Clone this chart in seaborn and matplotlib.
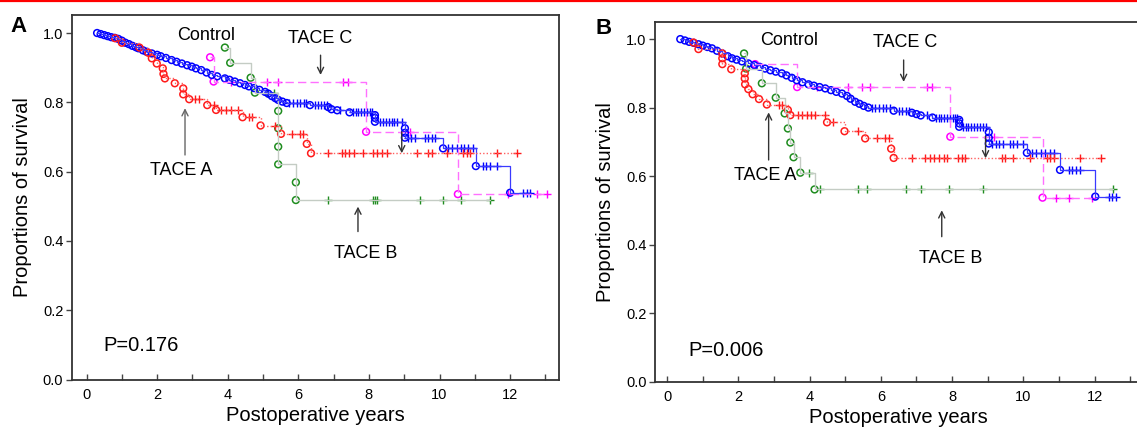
import numpy as np
import pandas as pd
import matplotlib
matplotlib.use("Agg")
import matplotlib.pyplot as plt
from matplotlib.lines import Line2D
from matplotlib.ticker import MultipleLocator, FormatStrFormatter
import seaborn as sns

# ---- Panel A: event times / survival after event, censor times ----
a_ctrl_t = [0.30, 0.40, 0.50, 0.60, 0.70, 0.80, 0.90, 1.00, 1.10, 1.20, 1.30, 1.40,
            1.47, 1.60, 1.70, 1.85, 2.00, 2.10, 2.25, 2.41, 2.55, 2.70, 2.85, 2.98,
            3.10, 3.25, 3.40, 3.55, 3.70, 3.92, 4.05, 4.20, 4.35, 4.49, 4.60, 4.75, 4.90,
            5.06, 5.15, 5.25, 5.35, 5.43, 5.55, 5.67, 6.33, 6.85, 6.94, 7.10, 7.45,
            8.17, 8.17, 8.17, 9.02, 9.02, 9.02, 10.10, 11.03, 12.00]
a_ctrl_s = [1.000, 0.997, 0.994, 0.991, 0.988, 0.986, 0.983, 0.978, 0.972, 0.968, 0.963, 0.959,
            0.956, 0.950, 0.946, 0.941, 0.937, 0.933, 0.928, 0.922, 0.917, 0.912, 0.907, 0.903,
            0.898, 0.893, 0.886, 0.879, 0.875, 0.869, 0.865, 0.860, 0.855, 0.850, 0.846, 0.841, 0.836,
            0.830, 0.825, 0.818, 0.812, 0.807, 0.802, 0.798, 0.792, 0.786, 0.780, 0.777, 0.771,
            0.763, 0.755, 0.744, 0.725, 0.712, 0.698, 0.667, 0.616, 0.539]
a_ctrl_c = [5.75, 5.85, 5.95, 6.05, 6.15, 6.22, 6.47, 6.55, 6.63, 6.72, 6.80, 7.18,
            7.55, 7.62, 7.70, 7.78, 7.86, 7.94, 8.02, 8.08, 8.31, 8.40, 8.48, 8.56, 8.64,
            8.72, 8.80, 8.93, 9.10, 9.20, 9.30, 9.58, 9.68, 9.78, 9.87, 10.24, 10.34, 10.50,
            10.60, 10.70, 10.82, 10.95, 11.22, 11.32, 11.42, 11.62, 12.37, 12.47, 12.56]

a_tA_t = [0.81, 1.00, 1.50, 1.75, 1.85, 1.99, 2.16, 2.18, 2.22, 2.50, 2.74, 2.74, 2.91,
          3.42, 3.67, 4.42, 4.93, 5.51, 6.24, 6.36]
a_tA_s = [0.985, 0.972, 0.958, 0.943, 0.927, 0.912, 0.898, 0.882, 0.869, 0.855, 0.840, 0.823,
          0.809, 0.792, 0.778, 0.757, 0.733, 0.709, 0.680, 0.653]
a_tA_c = [3.07, 3.20, 3.60, 3.80, 3.95, 4.10, 4.30, 4.60, 4.70, 5.34, 5.82, 6.05, 6.14,
          6.85, 7.23, 7.32, 7.44, 7.58, 7.84, 8.12, 8.24, 8.36, 8.50, 9.35, 9.68, 9.78,
          10.20, 10.67, 10.77, 10.86, 11.62, 12.19]

a_tB_t = [3.92, 4.07, 4.65, 4.77, 5.43, 5.43, 5.43, 5.43, 5.93, 5.93]
a_tB_s = [0.958, 0.914, 0.871, 0.828, 0.775, 0.725, 0.672, 0.621, 0.569, 0.518]
a_tB_c = [5.12, 5.32, 6.85, 8.12, 8.17, 8.22, 9.45, 10.10, 10.60, 11.43]

a_tC_t = [3.50, 3.60, 7.92, 10.52]
a_tC_s = [0.930, 0.860, 0.715, 0.535]
a_tC_c = [4.10, 5.10, 5.42, 7.27, 7.42, 9.16, 11.95, 12.75, 13.04]

# ---- Panel B ----
b_ctrl_t = [0.37, 0.50, 0.62, 0.75, 0.88, 1.00, 1.13, 1.26,
            1.40, 1.55, 1.70, 1.82, 1.95, 2.10, 2.28, 2.45, 2.60, 2.75, 2.90, 3.05, 3.22,
            3.35, 3.50, 3.64, 3.80, 3.97, 4.12, 4.28, 4.44, 4.60, 4.75, 4.91,
            5.05, 5.15, 5.28, 5.40, 5.52, 5.65, 6.36, 6.87, 7.00, 7.12, 7.45,
            8.20, 8.20, 8.20, 9.03, 9.03, 9.03, 10.10, 11.03, 12.02]
b_ctrl_s = [1.000, 0.996, 0.992, 0.989, 0.985, 0.981, 0.977, 0.973,
            0.966, 0.958, 0.950, 0.944, 0.940, 0.935, 0.929, 0.924, 0.919, 0.914, 0.909, 0.905, 0.900,
            0.894, 0.887, 0.880, 0.874, 0.868, 0.864, 0.860, 0.856, 0.851, 0.846, 0.841,
            0.834, 0.826, 0.817, 0.811, 0.805, 0.800, 0.791, 0.785, 0.781, 0.777, 0.771,
            0.764, 0.754, 0.744, 0.728, 0.712, 0.695, 0.668, 0.618, 0.540]
b_ctrl_c = [5.75, 5.85, 5.95, 6.05, 6.15, 6.25, 6.50, 6.60, 6.70, 6.80, 7.30, 7.55, 7.62,
            7.70, 7.78, 7.86, 7.94, 8.02, 8.08, 8.14, 8.30, 8.38, 8.46, 8.54, 8.62, 8.70,
            8.78, 8.86, 8.95, 9.12, 9.22, 9.32, 9.42, 9.62, 9.72, 9.82, 10.00, 10.25, 10.35,
            10.50, 10.60, 10.75, 10.85, 11.27, 11.38, 11.48, 11.60, 12.40, 12.50, 12.60]

b_tA_t = [0.74, 0.88, 1.55, 1.55, 1.55, 1.80, 2.18, 2.18, 2.19, 2.28, 2.40, 2.58, 2.80,
          3.39, 3.46, 4.49, 4.98, 5.56, 6.29, 6.36]
b_tA_s = [0.990, 0.971, 0.958, 0.944, 0.927, 0.912, 0.900, 0.885, 0.868, 0.854, 0.839, 0.825,
          0.809, 0.793, 0.778, 0.757, 0.731, 0.710, 0.680, 0.653]
b_tA_c = [3.13, 3.22, 3.68, 3.80, 3.92, 4.04, 4.16, 4.42, 4.67, 5.37, 5.89, 6.12, 6.22,
          6.87, 7.25, 7.37, 7.49, 7.63, 7.77, 7.86, 8.18, 8.28, 8.37, 9.40, 9.49, 9.72,
          10.20, 10.67, 10.76, 10.85, 11.60, 12.18]

b_tB_t = [2.16, 2.22, 2.66, 3.05, 3.30, 3.39, 3.46, 3.55, 3.74, 4.14]
b_tB_s = [0.958, 0.914, 0.871, 0.829, 0.783, 0.739, 0.698, 0.655, 0.610, 0.561]
b_tB_c = [3.99, 4.30, 5.37, 5.61, 6.71, 7.13, 7.90, 8.87, 12.52]

b_tC_t = [2.47, 3.65, 7.95, 10.54]
b_tC_s = [0.927, 0.860, 0.715, 0.537]
b_tC_c = [4.22, 5.09, 5.47, 5.70, 7.29, 7.43, 9.17, 10.93, 11.27, 11.93]

p_values = ["P=0.176", "P=0.006"]

# estilo de cada grupo (cor do marcador, cor/tipo da linha)
STYLE = {
    "TACE B": dict(mc="#1e8c1e", lc="#c4ccc4", ls="-", lw=1.0),
    "TACE C": dict(mc="#ff00ff", lc="#ff70ff", ls=(0, (6, 3)), lw=1.0),
    "Control": dict(mc="#0000ff", lc="#3a3aff", ls="-", lw=0.9),
    "TACE A": dict(mc="#ff1a1a", lc="#ff6060", ls=(0, (1, 1.5)), lw=1.0),
}

sns.set_style("ticks")
plt.rcParams["font.family"] = ["Liberation Sans", "DejaVu Sans"]
plt.rcParams["text.color"] = "black"
plt.rcParams["axes.labelcolor"] = "black"
plt.rcParams["xtick.color"] = "black"
plt.rcParams["ytick.color"] = "black"


def km_parts(ev_t, ev_s, cens):
    ev_t = np.asarray(ev_t, float)
    ev_s = np.asarray(ev_s, float)
    cens = np.asarray(cens, float)
    end = max(ev_t.max(), cens.max())
    line = pd.DataFrame({"t": np.append(ev_t, end), "s": np.append(ev_s, ev_s[-1])})
    idx = np.searchsorted(ev_t, cens, side="right") - 1
    cs = np.where(idx >= 0, ev_s[np.clip(idx, 0, None)], 1.0)
    events = pd.DataFrame({"t": ev_t, "s": ev_s})
    censored = pd.DataFrame({"t": cens, "s": cs})
    return line, events, censored


def draw_panel(ax, groups, xlim, ylim):
    for name, (ev_t, ev_s, cens) in groups.items():
        st = STYLE[name]
        line, events, censored = km_parts(ev_t, ev_s, cens)
        sns.lineplot(data=line, x="t", y="s", estimator=None, sort=False,
                     drawstyle="steps-post", color=st["lc"], linestyle=st["ls"],
                     linewidth=st["lw"], ax=ax)
        sns.scatterplot(data=censored, x="t", y="s", marker="+", color=st["mc"],
                        s=34, linewidth=1.0, ax=ax)
        sns.scatterplot(data=events, x="t", y="s", marker="o", color=st["mc"],
                        facecolors="none", edgecolor=st["mc"], s=24, linewidth=1.1, ax=ax)

    ax.set_xlim(*xlim)
    ax.set_ylim(*ylim)
    ax.xaxis.set_major_locator(MultipleLocator(2))
    ax.xaxis.set_minor_locator(MultipleLocator(1))
    ax.yaxis.set_major_locator(MultipleLocator(0.2))
    ax.yaxis.set_major_formatter(FormatStrFormatter("%.1f"))
    ax.tick_params(axis="x", which="both", direction="in", length=4, width=1,
                   color="#444444", labelsize=10.5, pad=6)
    ax.tick_params(axis="y", direction="out", length=4, width=1,
                   color="#444444", labelsize=10.5, pad=2)
    for sp in ax.spines.values():
        sp.set_visible(True)
        sp.set_color("#333333")
        sp.set_linewidth(1.3)
    ax.set_xlabel("Postoperative years", fontsize=14.5, labelpad=3)
    ax.set_ylabel("Proportions of survival", fontsize=14.5, labelpad=8)


def arrow(ax, x, y0, y1, color="#333333"):
    ax.annotate("", xy=(x, y1), xytext=(x, y0),
                arrowprops=dict(arrowstyle="->", color=color, lw=1.0,
                                shrinkA=0, shrinkB=0, mutation_scale=11))


fig = plt.figure(figsize=(11.37, 4.32), dpi=100)
axA = fig.add_axes([71.7 / 1137, 52.5 / 432, 487.3 / 1137, 364.5 / 432])
axB = fig.add_axes([655 / 1137, 50.5 / 432, 487.3 / 1137, 359.5 / 432])

draw_panel(axA, {"TACE B": (a_tB_t, a_tB_s, a_tB_c),
                 "TACE C": (a_tC_t, a_tC_s, a_tC_c),
                 "Control": (a_ctrl_t, a_ctrl_s, a_ctrl_c),
                 "TACE A": (a_tA_t, a_tA_s, a_tA_c)},
           (-0.42, 13.385), (0, 1.052))
draw_panel(axB, {"TACE B": (b_tB_t, b_tB_s, b_tB_c),
                 "TACE C": (b_tC_t, b_tC_s, b_tC_c),
                 "Control": (b_ctrl_t, b_ctrl_s, b_ctrl_c),
                 "TACE A": (b_tA_t, b_tA_s, b_tA_c)},
           (-0.34, 13.34), (0, 1.05))

# anotações do painel A
axA.text(3.39, 0.992, "Control", fontsize=13, ha="center", va="center")
axA.text(6.63, 0.985, "TACE C", fontsize=13, ha="center", va="center")
axA.text(2.69, 0.602, "TACE A", fontsize=13, ha="center", va="center")
axA.text(7.92, 0.365, "TACE B", fontsize=13, ha="center", va="center")
arrow(axA, 6.63, 0.936, 0.879)
arrow(axA, 2.79, 0.648, 0.783, color="#666666")
arrow(axA, 7.69, 0.427, 0.499)
arrow(axA, 8.93, 0.715, 0.653)
axA.text(0.47, 0.097, p_values[0], fontsize=14.5, ha="left", va="center")

# anotações do painel B
axB.text(3.43, 0.997, "Control", fontsize=13, ha="center", va="center")
axB.text(6.69, 0.99, "TACE C", fontsize=13, ha="center", va="center")
axB.text(2.75, 0.603, "TACE A", fontsize=13, ha="center", va="center")
axB.text(7.95, 0.36, "TACE B", fontsize=13, ha="center", va="center")
arrow(axB, 6.64, 0.939, 0.875)
arrow(axB, 2.85, 0.647, 0.786)
arrow(axB, 7.71, 0.423, 0.500)
arrow(axB, 8.94, 0.717, 0.652)
axB.text(0.59, 0.092, p_values[1], fontsize=14.5, ha="left", va="center")

fig.text(10 / 1137, 1 - 26 / 432, "A", fontsize=16, fontweight="bold", ha="left", va="center")
fig.text(595 / 1137, 1 - 28 / 432, "B", fontsize=16, fontweight="bold", ha="left", va="center")

# linha vermelha no topo da página
fig.add_artist(Line2D([0, 1], [1 - 1 / 432, 1 - 1 / 432], color="red", lw=1.6,
                      transform=fig.transFigure))

fig.savefig("out.png", dpi=100)
